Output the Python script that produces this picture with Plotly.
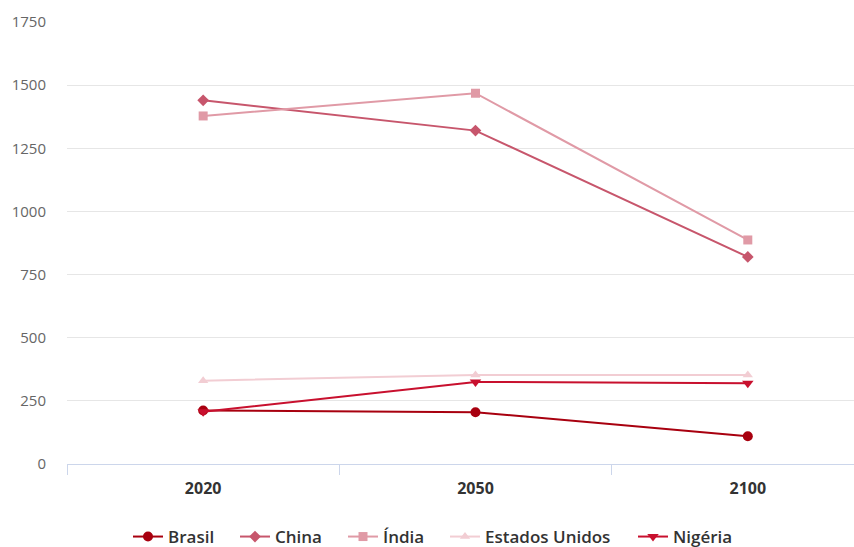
import plotly.graph_objects as go

years = ["2020", "2050", "2100"]
brasil = [212, 205, 110]
china = [1440, 1320, 820]
india = [1378, 1468, 887]
eua = [330, 352, 352]
nigeria = [207, 325, 320]

series = [
    ("Brasil", brasil, "#a8000f", "circle", 10),
    ("China", china, "#c7566c", "diamond", 9),
    ("Índia", india, "#e09aa6", "square", 9),
    ("Estados Unidos", eua, "#f2cdd3", "triangle-up", 9),
    ("Nigéria", nigeria, "#c8102e", "triangle-down", 10),
]
# left pixel position of each legend entry's text
legend_text_x = [168, 275, 383, 485, 673]

W, H = 854, 547
fig = go.Figure()
legend_layouts = {}
for i, (name, vals, col, sym, sz) in enumerate(series):
    lname = "legend" if i == 0 else f"legend{i+1}"
    fig.add_trace(go.Scatter(
        x=years, y=vals, name=name, mode="lines+markers",
        line=dict(color=col, width=2),
        marker=dict(symbol=sym, size=sz, color=col),
        legend=lname,
    ))
    legend_layouts[lname] = dict(
        orientation="h", xref="container", yref="container",
        x=(legend_text_x[i] - 40) / W, xanchor="left",
        y=1 - 537 / H, yanchor="middle",
        font=dict(size=17, color="#333333", family="Open Sans", weight=600),
        itemwidth=30, bgcolor="rgba(0,0,0,0)",
    )

fig.update_layout(
    width=W, height=H,
    margin=dict(l=67, r=0, t=22, b=83),
    paper_bgcolor="white", plot_bgcolor="white",
    font=dict(family="Open Sans", color="#333333"),
    showlegend=True,
    xaxis=dict(type="category", range=[-0.5, 2.39], showgrid=False,
               showline=True, linecolor="#ccd6eb", linewidth=1,
               ticks="outside", tickson="boundaries", ticklen=10, tickcolor="#ccd6eb",
               tickfont=dict(size=16, color="#333333", family="Open Sans", weight="bold"),
               ticklabelstandoff=10,
               fixedrange=True, zeroline=False),
    yaxis=dict(range=[0, 1750], tickvals=[0, 250, 500, 750, 1000, 1250, 1500, 1750],
               showgrid=True, gridcolor="#e6e6e6", gridwidth=1,
               zeroline=False, showline=False,
               tickfont=dict(size=15, color="#666666", family="Open Sans"),
               ticklabelstandoff=20),
    **legend_layouts,
)

fig.write_html("out.html")
